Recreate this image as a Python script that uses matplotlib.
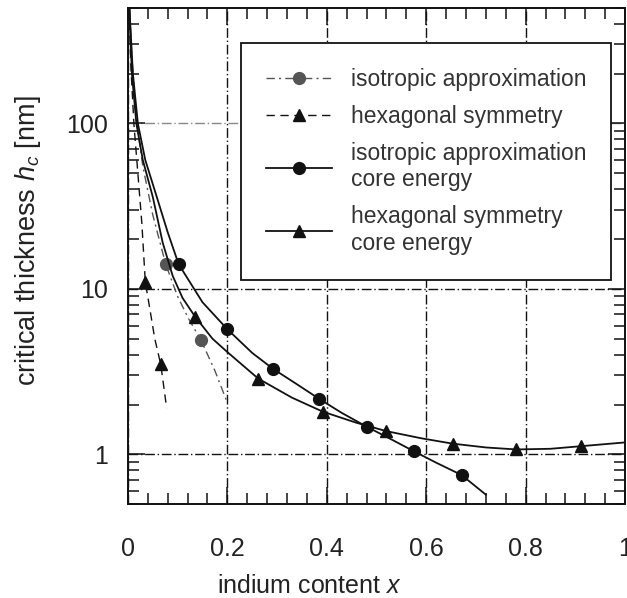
import matplotlib
matplotlib.use("Agg")
import matplotlib.pyplot as plt
from matplotlib.ticker import FixedLocator, FixedFormatter, LogLocator, MultipleLocator, NullFormatter

plt.rcParams['font.family'] = ['Liberation Sans', 'DejaVu Sans']
plt.rcParams['mathtext.fontset'] = 'custom'
plt.rcParams['mathtext.rm'] = 'Liberation Sans'
plt.rcParams['mathtext.it'] = 'Liberation Sans:italic'

# critical thickness curves (x = indium content, y = h_c in nm)
iso_x = [0.003, 0.008, 0.018, 0.03, 0.05, 0.076, 0.1, 0.122, 0.147, 0.175, 0.2]
iso_y = [500, 250, 100, 55, 28, 14.1, 9.0, 6.6, 4.9, 3.2, 2.05]

hex_x = [0.002, 0.006, 0.012, 0.02, 0.028, 0.035, 0.044, 0.054, 0.066, 0.078]
hex_y = [500, 220, 100, 50, 25, 11.0, 7.6, 5.0, 3.5, 1.9]

iso_core_x = [0.003, 0.01, 0.02, 0.035, 0.058, 0.08, 0.102, 0.15, 0.2, 0.25,
              0.291, 0.34, 0.384, 0.43, 0.48, 0.53, 0.576, 0.62, 0.671, 0.72]
iso_core_y = [500, 200, 100, 60, 36, 22, 14.1, 8.3, 5.7, 4.1,
              3.3, 2.65, 2.17, 1.78, 1.47, 1.23, 1.04, 0.89, 0.75, 0.57]

hex_core_x = [0.003, 0.008, 0.017, 0.03, 0.05, 0.07, 0.09, 0.11, 0.135, 0.17, 0.2, 0.262,
              0.33, 0.392, 0.46, 0.52, 0.59, 0.653, 0.72, 0.781, 0.85, 0.912, 1.0]
hex_core_y = [500, 200, 100, 60, 36, 19, 12, 8.8, 6.8, 5.0, 4.15, 2.87,
              2.2, 1.81, 1.55, 1.38, 1.25, 1.16, 1.1, 1.07, 1.08, 1.12, 1.18]

labels = ["isotropic approximation",
          "hexagonal symmetry",
          "isotropic approximation\ncore energy",
          "hexagonal symmetry\ncore energy"]

x_ticks = [0, 0.2, 0.4, 0.6, 0.8, 1]
x_ticklabels = ["0", "0.2", "0.4", "0.6", "0.8", "1"]
y_ticks = [1, 10, 100]
y_ticklabels = ["1", "10", "100"]

fig = plt.figure(figsize=(6.27, 5.98), dpi=100)
ax = fig.add_axes([0.204, 0.157, 0.793, 0.830])

ax.plot(iso_x, iso_y, color='#555555', lw=1.0, ls=(0, (6, 3, 1.5, 3)),
        marker='o', ms=8.5, markevery=[5, 8], label=labels[0])
ax.plot(hex_x, hex_y, color='#111111', lw=1.0, ls=(0, (6, 4)),
        marker='^', ms=8.5, markevery=[5, 8], label=labels[1])
ax.plot(iso_core_x, iso_core_y, color='#111111', lw=1.3,
        marker='o', ms=8.5, markevery=[6, 8, 10, 12, 14, 16, 18], label=labels[2])
ax.plot(hex_core_x, hex_core_y, color='#111111', lw=1.3,
        marker='^', ms=8.5, markevery=[8, 11, 13, 15, 17, 19, 21], label=labels[3])

ax.set_yscale('log')
ax.set_xlim(0, 1)
ax.set_ylim(0.5, 500)

ax.xaxis.set_major_locator(FixedLocator(x_ticks))
ax.xaxis.set_major_formatter(FixedFormatter(x_ticklabels))
ax.xaxis.set_minor_locator(MultipleLocator(0.04))
ax.yaxis.set_major_locator(FixedLocator(y_ticks))
ax.yaxis.set_major_formatter(FixedFormatter(y_ticklabels))
ax.yaxis.set_minor_locator(LogLocator(base=10, subs=range(2, 10)))
ax.yaxis.set_minor_formatter(NullFormatter())

ax.tick_params(which='both', direction='in', top=True, right=True, width=1.1, color='#111111')
ax.tick_params(which='major', length=12, labelsize=18, labelcolor='#222222')
ax.tick_params(axis='x', which='major', pad=24)
ax.tick_params(axis='y', which='major', pad=14)
ax.tick_params(which='minor', length=8)

for s in ax.spines.values():
    s.set_linewidth(1.4)
    s.set_color('#111111')

ax.grid(True, which='major', color='#111111', lw=1.0, ls=(0, (7, 2, 1, 2)))
# the 100 nm line is drawn lighter
ax.yaxis.get_major_ticks()[2].gridline.set_color('#888888')

ax.set_xlabel(r'indium content $x$', fontsize=18, color='#222222')
ax.set_ylabel(r'critical thickness $h_c$ [nm]', fontsize=19.5, color='#222222')
ax.xaxis.set_label_coords(0.366, -0.14)
ax.yaxis.set_label_coords(-0.17, 0.53)

leg = ax.legend(loc='upper left', bbox_to_anchor=(0.227, 0.929), borderaxespad=0,
                fontsize=16.5, frameon=True, fancybox=False, edgecolor='#111111',
                framealpha=1, handlelength=2.9, handletextpad=0.8, labelspacing=0.6,
                borderpad=1.1)
leg.get_frame().set_linewidth(1.3)
for t in leg.get_texts():
    t.set_color('#333333')

fig.savefig('out.png', dpi=100)
